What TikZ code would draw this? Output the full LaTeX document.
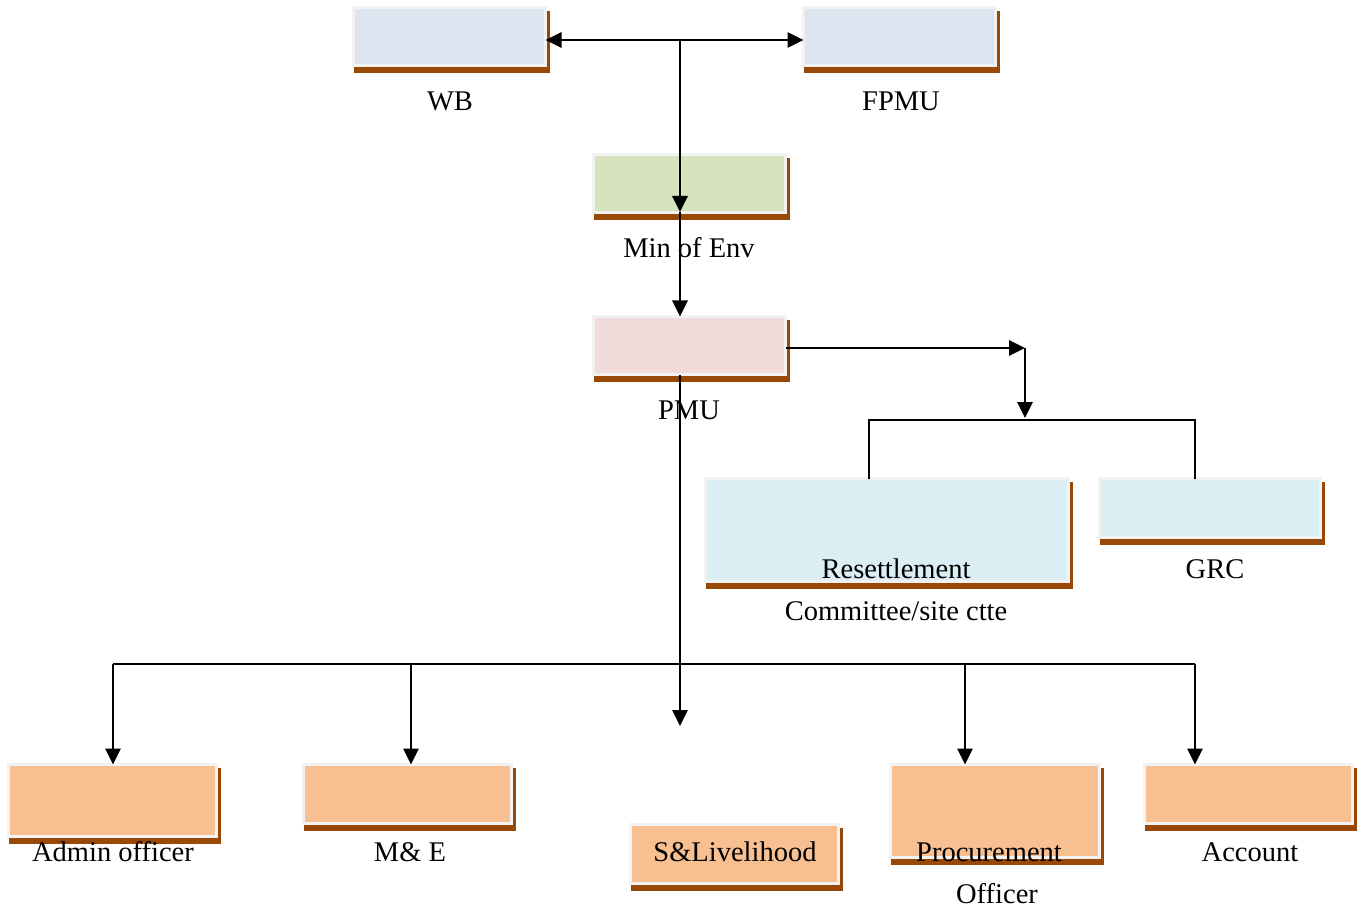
\documentclass[tikz,border=0pt]{standalone}
\usepackage{fontspec}
\setmainfont{Liberation Serif}
\usetikzlibrary{arrows.meta}
\definecolor{shadowc}{HTML}{984807}
\definecolor{borderc}{HTML}{F2F2F2}
\definecolor{cblue}{HTML}{DCE4F0}
\definecolor{cgreen}{HTML}{D6E3BC}
\definecolor{cpink}{HTML}{F2DCDB}
\definecolor{ccyan}{HTML}{DAEEF3}
\definecolor{corange}{HTML}{F8BF90}
\tikzset{
  obox/.style={rectangle, draw=borderc, line width=3pt, inner sep=0pt, outer sep=0pt},
  lbl/.style={inner sep=0pt, font=\fontsize{28.5}{32}\selectfont, text=black},
  conn/.style={line width=2.7pt, black},
  arr/.style={conn, -{Triangle[length=16pt,width=15pt]}},
  darr/.style={conn, {Triangle[length=16pt,width=15pt]}-{Triangle[length=16pt,width=15pt]}},
}
\newcommand\obox[6]{%
  \fill[shadowc] ({#2+2},{#3+5}) rectangle ({#4+3},{#5+6});
  \node[obox, fill=#6, minimum width={(#4-#2-3)*1pt}, minimum height={(#5-#3-3)*1pt}] (#1) at ({(#2+#4)/2},{(#3+#5)/2}) {};
}
\begin{document}
\begin{tikzpicture}[x=1pt,y=-1pt]
\useasboundingbox[fill=white] (0,0) rectangle (1365,909);
% boxes
\obox{wb}{352}{6}{547}{67}{cblue}
\obox{fpmu}{802}{6}{997}{67}{cblue}
\obox{env}{592}{153}{787}{214}{cgreen}
\obox{pmu}{592}{315}{787}{376}{cpink}
\obox{reset}{704}{477}{1070}{583}{ccyan}
\obox{grc}{1098}{477}{1322}{539}{ccyan}
\obox{admin}{7}{763}{218}{838}{corange}
\obox{me}{302}{763}{513}{825}{corange}
\obox{sl}{629}{823}{840}{885}{corange}
\obox{proc}{889}{763}{1101}{859}{corange}
\obox{acc}{1143}{763}{1354}{825}{corange}
% coordinates
\coordinate (tj) at (680,40);
\coordinate (m1) at (680,212);
\coordinate (c1) at (1025,348);
\coordinate (c2) at (1025,418);
\coordinate (b1) at (869,420);
\coordinate (b2) at (1195,420);
\coordinate (pd) at (680,726);
\coordinate (h1) at (113,664);
\coordinate (h2) at (1195,664);
\coordinate (hme) at (411,664);
\coordinate (hpr) at (965,664);
% connectors
\draw[darr] ([yshift=-3.5pt]wb.east) -- ([yshift=-3.5pt]fpmu.west);
\draw[arr] (tj) -- (m1);
\draw[arr] (m1) -- (pmu.north -| tj);
\draw[arr] ([yshift=-2.5pt]pmu.east) -- (c1);
\draw[arr] (c1) -- (c2);
\draw[conn] (reset.north -| b1) -- (b1) -- (b2) -- (grc.north -| b2);
\draw[arr] (pmu.south -| tj) -- (pd);
\draw[conn] (h1) -- (h2);
\draw[arr] (h1) -- (admin.north -| h1);
\draw[arr] (hme) -- (me.north -| hme);
\draw[arr] (hpr) -- (proc.north -| hpr);
\draw[arr] (h2) -- (acc.north -| h2);
% labels
\node[lbl] (lwb) at (450,101) {WB};
\node[lbl] (lfpmu) at (901,101) {FPMU};
\node[lbl] (lenv) at (689,248) {Min of Env};
\node[lbl] (lpmu) at (689,410) {PMU};
\node[lbl] (lreset) at (896,569) {Resettlement};
\node[lbl] (lcomm) at (896,611) {Committee/site ctte};
\node[lbl] (lgrc) at (1215,569) {GRC};
\node[lbl] (ladmin) at (113,852) {Admin officer};
\node[lbl] (lme) at (410,852) {M\& E};
\node[lbl] (lsl) at (735,852) {S\&Livelihood};
\node[lbl] (lproc) at (989,852) {Procurement};
\node[lbl] (loff) at (997,894) {Officer};
\node[lbl] (lacc) at (1250,852) {Account};
\end{tikzpicture}
\end{document}
